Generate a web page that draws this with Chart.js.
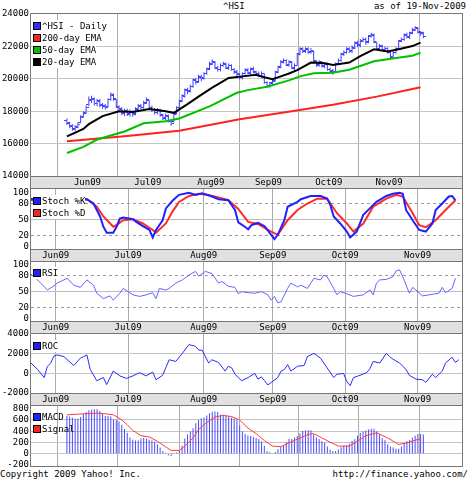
<!DOCTYPE html>
<html>
<head>
<meta charset="utf-8">
<script src="https://cdn.jsdelivr.net/npm/chart.js@4/dist/chart.umd.min.js"></script>
<style>
body { margin: 0; background: #fff; width: 470px; height: 480px; position: relative; overflow: hidden;
       font: 9px "DejaVu Sans Mono", monospace; color: #000; }
.abs { position: absolute; line-height: 10px; white-space: nowrap; }
.panel { position: absolute; left: 30px; width: 431px; border: 1px solid #777; background: #fff; z-index: 0; }
.band { position: absolute; left: 30px; width: 431px; height: 11px; border: 1px solid #777; border-top: none; background: #e0e0e0; z-index: 0; }
canvas { position: absolute; left: 0; z-index: 1; }
.leg { position: absolute; left: 33px; z-index: 3; }
.leg div { height: 12px; line-height: 12px; width: max-content; background: #fff; white-space: nowrap; }
.leg.clear div { background: none; }
.sw { display: inline-block; width: 6px; height: 6px; border: 1px solid #000; margin-right: 1px; vertical-align: -1px; }
</style>
</head>
<body>
<div class="abs" style="left:223px;top:1px">^HSI</div>
<div class="abs" style="right:4px;top:1px">as of 19-Nov-2009</div>

<div class="panel" style="top:13px;height:162px"></div>
<div class="band" style="top:177px"></div>
<div class="panel" style="top:188px;height:60px"></div>
<div class="band" style="top:250px"></div>
<div class="panel" style="top:261px;height:59px"></div>
<div class="band" style="top:322px"></div>
<div class="panel" style="top:333px;height:59px"></div>
<div class="band" style="top:394px"></div>
<div class="panel" style="top:405px;height:60px"></div>

<canvas id="price" width="470" height="182" style="top:6px"></canvas>
<canvas id="stoch" width="470" height="80" style="top:181px"></canvas>
<canvas id="rsi" width="470" height="79" style="top:254px"></canvas>
<canvas id="roc" width="470" height="79" style="top:326px"></canvas>
<canvas id="macd" width="470" height="76" style="top:398px"></canvas>

<div class="leg" style="top:20px">
  <div><span class="sw" style="background:#3030ff"></span>^HSI - Daily</div>
  <div><span class="sw" style="background:#ff2020"></span>200-day EMA</div>
  <div><span class="sw" style="background:#00c000"></span>50-day EMA</div>
  <div><span class="sw" style="background:#000"></span>20-day EMA</div>
</div>
<div class="leg" style="top:195px">
  <div><span class="sw" style="background:#2020ff"></span>Stoch %K</div>
  <div><span class="sw" style="background:#ff2020"></span>Stoch %D</div>
</div>
<div class="leg" style="top:267px">
  <div><span class="sw" style="background:#2020ff"></span>RSI</div>
</div>
<div class="leg" style="top:340px">
  <div><span class="sw" style="background:#2020ff"></span>ROC</div>
</div>
<div class="leg clear" style="top:411px">
  <div><span class="sw" style="background:#2020ff"></span>MACD</div>
  <div><span class="sw" style="background:#ff2020"></span>Signal</div>
</div>

<div class="abs" style="left:0;top:469px">Copyright 2009 Yahoo! Inc.</div>
<div class="abs" style="right:2px;top:469px">http://finance.yahoo.com/</div>

<script>
// x positions are trading days (0 = first bar, 130 = 19-Nov-2009)
const monthDays = [7.5, 29.5, 52.5, 73.5, 95.5, 117.5];
const monthLabels = ['Jun09', 'Jul09', 'Aug09', 'Sep09', 'Oct09', 'Nov09'];

const opens = [17400,17250,17050,16900,17050,17300,17700,17900,18400,18650,
  18750,18450,18650,18350,18350,18300,18750,19050,18700,18250,
  18150,17850,18050,17800,17950,17850,18150,18350,18250,18550,
  18650,18250,18100,17900,18100,17750,17550,17750,17350,17350,
  17850,18250,18650,18950,19350,19250,19550,19950,19850,20150,
  20050,20350,20650,20950,21050,20650,20550,20850,20950,20650,
  20850,20550,20450,20250,20050,20350,20550,20350,20650,20400,
  20350,20150,20300,19750,19550,19750,19900,20450,20750,21050,
  21150,20850,21050,20650,20850,21550,21850,21700,21850,21650,
  21700,21050,20850,21050,20750,20950,20550,20450,20450,20950,
  21150,21550,21650,21850,21700,21950,22250,22050,22350,22450,
  22300,22650,22750,22250,21850,22050,21750,21900,21650,21350,
  21650,21850,22350,22450,22750,22550,22850,23050,23150,22850,22850];
const highs = [17550,17350,17200,17150,17300,17750,18000,18350,18900,18950,
  18850,18750,18750,18500,18450,18800,19150,19100,18750,18350,
  18250,18150,18150,18100,18050,18250,18450,18450,18650,18850,
  18700,18350,18200,18200,18150,17850,17850,17800,17450,17900,
  18300,18700,19050,19400,19450,19650,20000,20050,20250,20250,
  20400,20700,21050,21200,21100,20800,20950,21050,21000,20950,
  20900,20650,20550,20350,20400,20650,20650,20700,20750,20500,
  20450,20450,20350,19850,19800,19950,20500,20800,21150,21250,
  21200,21150,21100,20950,21600,21950,21950,21950,21950,21900,
  21750,21150,21150,21100,21000,21000,20700,20600,21000,21250,
  21600,21750,21950,21950,22050,22300,22350,22450,22550,22550,
  22700,22850,22800,22300,22150,22100,22000,21950,21700,21700,
  21950,22400,22550,22800,22850,22900,23150,23250,23200,22950,22900];
const lows = [17150,16950,16800,16800,16950,17250,17600,17850,18300,18500,
  18350,18300,18250,18150,18100,18250,18650,18650,18200,17950,
  17750,17700,17700,17650,17650,17750,18050,18100,18150,18450,
  18100,17950,17800,17800,17650,17450,17450,17300,17100,17300,
  17800,18150,18550,18850,19050,19150,19450,19650,19750,19850,
  19950,20250,20550,20850,20600,20450,20450,20750,20600,20550,
  20500,20300,20150,19950,19950,20250,20300,20250,20350,20150,
  20100,20050,19700,19450,19450,19600,19850,20350,20650,20950,
  20800,20750,20600,20550,20800,21450,21600,21600,21550,21550,
  21000,20750,20750,20700,20650,20500,20350,20250,20400,20850,
  21050,21400,21550,21600,21600,21850,21950,21950,22250,22100,
  22200,22550,22200,21800,21750,21700,21650,21550,21200,21250,
  21550,21800,22250,22350,22500,22450,22750,22950,22800,22650,22500];
const closes = [17300,17100,16950,17000,17150,17600,17850,18200,18700,18800,
  18500,18600,18400,18300,18250,18700,19000,18800,18300,18100,
  17900,18000,17850,17950,17800,18100,18300,18200,18500,18700,
  18200,18100,17950,18050,17800,17600,17700,17400,17250,17800,
  18200,18600,18900,19300,19200,19500,19900,19800,20100,20000,
  20300,20600,20900,21000,20700,20600,20800,20900,20700,20800,
  20600,20400,20300,20100,20300,20500,20400,20600,20450,20300,
  20200,20350,19800,19600,19700,19850,20400,20700,21000,21100,
  20900,21000,20700,20800,21500,21800,21750,21800,21700,21750,
  21100,20900,21000,20800,20900,20600,20500,20400,20900,21100,
  21500,21600,21800,21750,21900,22200,22100,22300,22400,22250,
  22600,22700,22300,21900,22000,21800,21850,21700,21300,21600,
  21800,22300,22400,22700,22600,22800,23000,23100,22900,22800,22600];

const ema200Days = [0, 21, 41, 63, 82, 97, 113, 129];
const ema200 = [16150, 16450, 16800, 17500, 18000, 18400, 18900, 19480];
const ema50Days = [0, 6, 11, 21, 28, 36, 41, 52, 62, 66, 73, 81, 85, 90, 97, 103, 112, 120, 126, 129];
const ema50 = [15420, 15800, 16250, 16750, 17250, 17380, 17550, 18300, 19140, 19300, 19510, 19900, 20150, 20340, 20380, 20560, 21080, 21280, 21420, 21620];
const ema20Days = [0, 6, 8, 13, 19, 24, 30, 36, 39, 44, 48, 53, 59, 64, 69, 72, 75, 78, 81, 84, 89, 94, 97, 103, 107, 112, 117, 121, 126, 129];
const ema20 = [16450, 16900, 17200, 17700, 18000, 17950, 18130, 18000, 17900, 18440, 18900, 19450, 20050, 20150, 20250, 20100, 19980, 20150, 20330, 20540, 21000, 20960, 20850, 21000, 21400, 21820, 21680, 21820, 22020, 22230];

const stochKDays = [0, 4, 17, 19, 21, 22, 23, 25, 26, 27, 28, 31, 32, 34, 36, 37, 38, 40, 41, 43, 45, 48, 50, 52, 55, 57, 60, 62, 63, 65, 66, 67, 69, 71, 73, 74, 75, 77, 78, 81, 82, 85, 88, 90, 91, 92, 94, 96, 97, 99, 101, 103, 105, 108, 110, 112, 113, 114, 116, 118, 120, 122, 123, 125, 127, 128, 129];
const stochK = [89, 81, 88, 80, 56, 37, 26, 26, 37, 52, 54, 51, 46, 38, 31, 17, 31, 49, 71, 85, 96, 100, 96, 99, 93, 88, 86, 68, 45, 37, 32, 40, 44, 38, 22, 14, 22, 49, 74, 83, 88, 94, 94, 89, 77, 56, 43, 28, 17, 28, 59, 71, 83, 94, 98, 100, 98, 68, 49, 31, 28, 43, 68, 80, 93, 94, 86];
const stochDDays = [0, 17, 20, 22, 25, 26, 28, 31, 34, 37, 38, 41, 43, 45, 48, 51, 54, 57, 60, 63, 66, 69, 72, 75, 78, 81, 84, 87, 90, 93, 96, 98, 101, 104, 108, 111, 113, 116, 118, 120, 123, 126, 129];
const stochD = [86, 88, 74, 56, 37, 40, 49, 51, 43, 31, 26, 43, 65, 83, 94, 98, 96, 91, 86, 70, 46, 42, 31, 22, 49, 68, 80, 89, 89, 62, 43, 28, 43, 74, 89, 96, 93, 62, 40, 36, 49, 68, 86];

const rsiDays = [0, 2, 5, 7, 8, 10, 11, 13, 15, 17, 19, 20, 22, 24, 25, 27, 28, 31, 33, 35, 37, 38, 39, 41, 42, 44, 46, 48, 50, 51, 53, 55, 57, 58, 60, 62, 63, 64, 66, 68, 70, 72, 73, 74, 75, 76, 78, 79, 81, 82, 84, 86, 88, 89, 90, 92, 93, 94, 96, 98, 101, 103, 104, 105, 106, 108, 110, 111, 112, 113, 115, 116, 117, 119, 121, 124, 125, 126, 128, 129];
const rsi = [83, 72, 53, 61, 66, 72, 75, 62, 58, 72, 62, 47, 37, 42, 34, 47, 56, 44, 41, 44, 48, 37, 56, 53, 56, 66, 72, 81, 88, 79, 88, 84, 66, 69, 60, 58, 46, 50, 48, 47, 50, 44, 34, 41, 29, 31, 56, 66, 59, 62, 56, 75, 72, 81, 78, 56, 44, 50, 46, 41, 44, 53, 44, 66, 72, 73, 78, 89, 91, 78, 47, 58, 53, 42, 44, 47, 58, 48, 56, 75];

const rocDays = [0, 2, 4, 5, 6, 7, 8, 10, 13, 15, 16, 17, 18, 20, 21, 22, 23, 25, 27, 29, 31, 33, 35, 37, 38, 40, 42, 44, 46, 48, 50, 51, 52, 54, 55, 57, 59, 60, 61, 62, 64, 66, 68, 69, 70, 71, 72, 75, 76, 77, 78, 79, 81, 83, 84, 86, 88, 90, 92, 93, 95, 96, 97, 98, 100, 102, 103, 104, 106, 108, 109, 110, 112, 114, 115, 117, 119, 120, 122, 123, 125, 126, 128, 129, 130];
const roc = [1050, 390, -430, 720, 1050, 1770, 1870, 1700, 790, 1540, 1700, 1870, 390, -750, -590, -430, -1150, 230, -260, -520, -260, 70, -260, 130, -650, -200, 1380, 1210, 2030, 2920, 2750, 2360, 2360, 1050, 1380, 1110, 230, 720, 560, -100, -750, -430, 0, -590, -360, -750, -1180, -430, 230, 390, 890, 230, 720, 790, 1700, 2030, 1540, 560, -430, -100, 0, -850, -1250, -430, -200, 70, 460, 1210, 1050, 2030, 1700, 1440, 1050, 390, -200, -590, -650, -920, -100, -430, 230, 1050, 1640, 1110, 1380];

const macd = [670,660,640,620,620,650,700,740,770,780,
  790,790,760,720,670,670,660,610,600,570,
  515,440,370,290,250,235,235,270,280,265,
  250,235,215,165,105,50,15,-30,-40,-10,
  20,50,140,270,340,400,450,540,600,630,
  645,680,720,745,750,740,690,690,675,660,
  640,625,600,500,400,350,325,315,300,280,
  263,222,140,50,25,10,30,80,125,150,
  205,260,263,290,315,360,405,410,415,415,
  340,290,260,225,200,130,70,47,47,76,
  115,140,146,180,230,255,320,370,395,410,
  430,445,445,400,340,280,240,170,130,110,
  90,90,130,190,222,245,290,320,350,350,340];
const signalDays = [0, 6, 11, 14, 17, 20, 22, 24, 27, 30, 33, 36, 38, 41, 43, 46, 48, 51, 54, 57, 60, 63, 66, 69, 72, 75, 78, 81, 85, 88, 90, 93, 96, 99, 103, 106, 109, 113, 117, 121, 124, 127, 129];
const signal = [690, 708, 720, 708, 690, 600, 515, 415, 320, 298, 222, 123, 58, 58, 135, 280, 427, 555, 650, 680, 660, 600, 456, 357, 234, 135, 123, 193, 280, 340, 357, 280, 205, 135, 135, 222, 320, 370, 280, 164, 193, 240, 263];

const priceTicks = [14000, 16000, 18000, 20000, 22000, 24000];
const oscTicks = [0, 20, 50, 80, 100];
const rocTicks = [-2000, 0, 2000, 4000];
const macdTicks = [-200, 0, 200, 400, 600, 800];

Chart.defaults.font.family = '"DejaVu Sans Mono", monospace';
Chart.defaults.font.size = 9;
Chart.defaults.color = '#000';

const PRICE_BLUE = '#3c3cff';

function pts(days, vals) {
  return days.map((d, i) => ({ x: d, y: vals[i] }));
}

// little horizontal stub used for the open (left) and close (right) ticks
function stub(right) {
  const c = document.createElement('canvas');
  c.width = 5; c.height = 1;
  const g = c.getContext('2d');
  g.fillStyle = PRICE_BLUE;
  g.fillRect(right ? 3 : 0, 0, 2, 1);
  return c;
}

function xAxis(showLabels) {
  return {
    type: 'linear', min: 0, max: 131,
    afterBuildTicks: s => { s.ticks = monthDays.map(v => ({ value: v })); },
    afterFit: s => { s.height = showLabels ? 12 : 0; },
    ticks: { display: showLabels, autoSkip: false, maxRotation: 0, padding: 1,
             callback: (v, i) => monthLabels[i] },
    grid: { color: '#aaaaaa', drawTicks: false },
    border: { display: false }
  };
}

// style: function(value) -> [color, dash]
function yAxis(min, max, tickVals, style) {
  return {
    type: 'linear', min, max,
    afterBuildTicks: s => { s.ticks = tickVals.map(v => ({ value: v })); },
    afterFit: s => { s.width = 31; },
    ticks: { padding: 2, autoSkip: false, callback: v => String(v) },
    grid: { drawTicks: false, color: c => style(c.tick.value)[0] },
    border: { display: false, dash: c => style(c.tick.value)[1] }
  };
}

const NONE = 'rgba(0,0,0,0)';
const solidInside = (lo, hi) => v => (v <= lo || v >= hi) ? [NONE, []] : ['#c4c4c4', []];
const oscStyle = v => {
  if (v === 20 || v === 80) return ['#999999', [3, 3]];
  if (v === 50) return ['#bdbdbd', []];
  return [NONE, []];
};

function makeChart(id, datasets, y, showMonths, bottomPad) {
  return new Chart(document.getElementById(id), {
    type: 'line',
    data: { datasets },
    options: {
      responsive: false, animation: false, devicePixelRatio: 1,
      layout: { autoPadding: false, padding: { left: 0, right: 8, top: 8, bottom: bottomPad } },
      plugins: { legend: { display: false }, tooltip: { enabled: false } },
      elements: { point: { radius: 0, hoverRadius: 0 }, line: { tension: 0 } },
      scales: { x: xAxis(showMonths), y }
    }
  });
}

const line = (data, color, width) => ({ type: 'line', data, borderColor: color, borderWidth: width, pointRadius: 0, fill: false });

// price panel: OHLC bars + EMAs
makeChart('price', [
  line(pts(ema20Days, ema20), '#000000', 2),
  line(pts(ema50Days, ema50), '#00c000', 2),
  line(pts(ema200Days, ema200), '#ff2020', 2),
  { type: 'line', showLine: false, data: opens.map((v, i) => ({ x: i, y: v })),
    pointStyle: stub(false), pointRadius: 1, pointHoverRadius: 1 },
  { type: 'line', showLine: false, data: closes.map((v, i) => ({ x: i, y: v })),
    pointStyle: stub(true), pointRadius: 1, pointHoverRadius: 1 },
  { type: 'bar', data: highs.map((v, i) => ({ x: i, y: [lows[i], v] })),
    backgroundColor: PRICE_BLUE, barThickness: 1, inflateAmount: 0, borderWidth: 0 }
], yAxis(14000, 24000, priceTicks, solidInside(14000, 24000)), true, 0);

makeChart('stoch', [
  line(pts(stochKDays, stochK), '#2020ff', 2),
  line(pts(stochDDays, stochD), '#ff2a2a', 2)
], yAxis(-4.3, 106.9, oscTicks, oscStyle), true, 0);

makeChart('rsi', [
  line(pts(rsiDays, rsi), '#6464ff', 1)
], yAxis(-5.1, 105.6, oscTicks, oscStyle), true, 0);

makeChart('roc', [
  line(pts(rocDays, roc), '#2a2aff', 1)
], yAxis(-2000, 4000, rocTicks, solidInside(-2000, 4000)), true, 0);

makeChart('macd', [
  line(pts(signalDays, signal), '#ff3a3a', 1),
  { type: 'bar', data: macd.map((v, i) => ({ x: i, y: v })),
    backgroundColor: '#4a4aff', barThickness: 1, inflateAmount: 0, borderWidth: 0 }
], yAxis(-218, 847, macdTicks, solidInside(-200, 800)), false, 8);
</script>
</body>
</html>
